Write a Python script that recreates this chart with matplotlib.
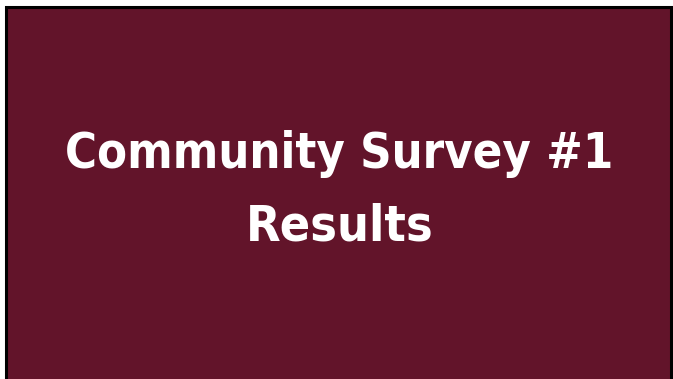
import matplotlib.pyplot as plt
from matplotlib.patches import Rectangle

TITLE_LINES = ['Community Survey #1', 'Results']
BG_COLOR = '#62142a'

fig = plt.figure(figsize=(6.73, 3.79), dpi=100)
fig.patch.set_facecolor('white')

# slide background with black frame (bottom edge runs off the picture)
fig.patches.append(Rectangle((5.5 / 673, -0.05), 665.5 / 673, 1.05 - 7.5 / 379,
                             transform=fig.transFigure, facecolor=BG_COLOR,
                             edgecolor='black', linewidth=2.2))

# title, two lines on their baselines
fig.text(339 / 673, 1 - 168 / 379, TITLE_LINES[0], ha='center', va='baseline',
         color='white', fontsize=35, fontweight='bold', family='DejaVu Sans',
         fontstretch='condensed')
fig.text(340 / 673, 1 - 240 / 379, TITLE_LINES[1], ha='center', va='baseline',
         color='white', fontsize=36, fontweight='bold', family='DejaVu Sans',
         fontstretch='condensed')

fig.savefig('out.png', dpi=100, facecolor='white')
